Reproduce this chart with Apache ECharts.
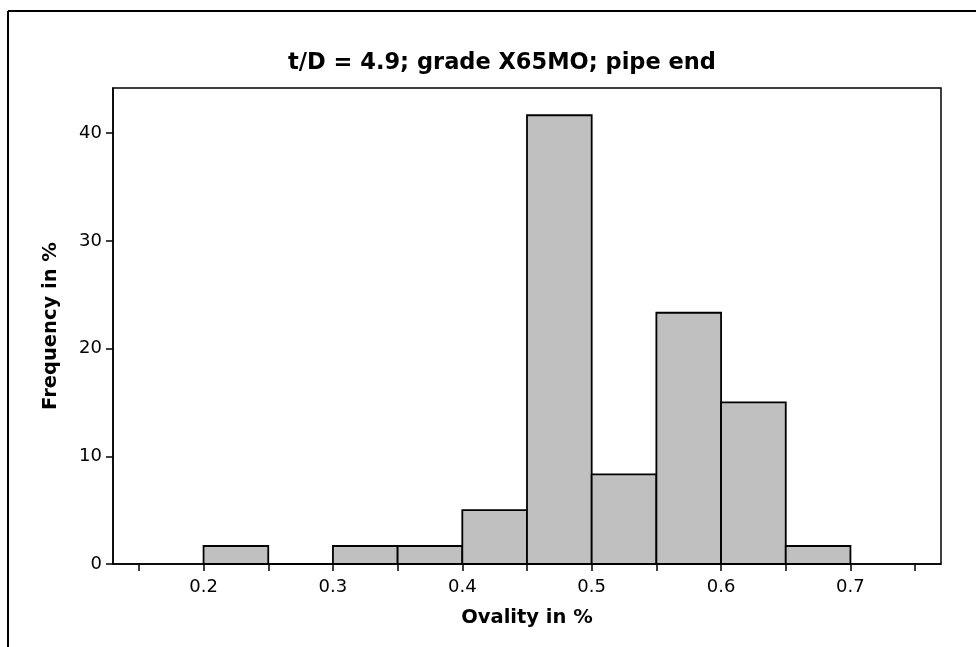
<!DOCTYPE html>
<html>
<head>
<meta charset="utf-8">
<script src="https://cdn.jsdelivr.net/npm/echarts@6/dist/echarts.min.js"></script>
<style>html,body{margin:0;padding:0;background:#fff;}#c{width:976px;height:647px;}</style>
</head>
<body>
<div id="c"></div>
<script>
// Histogram bins (Ovality in %) and frequencies (%)
const binStarts = [0.20, 0.25, 0.30, 0.35, 0.40, 0.45, 0.50, 0.55, 0.60, 0.65];
const binEnds   = [0.25, 0.30, 0.35, 0.40, 0.45, 0.50, 0.55, 0.60, 0.65, 0.70];
const frequencies = [1.67, 0, 1.67, 1.67, 5.0, 41.67, 8.33, 23.33, 15.0, 1.67];
const xTickValues = [0.15, 0.2, 0.25, 0.3, 0.35, 0.4, 0.45, 0.5, 0.55, 0.6, 0.65, 0.7, 0.75];
const xLabelValues = [0.2, 0.3, 0.4, 0.5, 0.6, 0.7];
const yTickValues = [0, 10, 20, 30, 40];
const titleText = 't/D = 4.9; grade X65MO; pipe end';
const xName = 'Ovality in %';
const yName = 'Frequency in %';

const data = binStarts.map((s, i) => [s, binEnds[i], frequencies[i]]);
const FONT = 'DejaVu Sans';

const chart = echarts.init(document.getElementById('c'), null, {renderer: 'canvas'});
chart.setOption({
  backgroundColor: '#fff',
  animation: false,
  title: {
    text: titleText,
    left: 497, top: 47, textAlign: 'center',
    textStyle: {fontFamily: FONT, fontWeight: 'bold', fontSize: 22.5, color: '#000'}
  },
  grid: {left: 113, right: 35, top: 88, bottom: 83, show: true, borderColor: '#000', borderWidth: 1.5, backgroundColor: 'transparent'},
  xAxis: {
    type: 'value', min: 0.13, max: 0.77,
    name: xName, nameLocation: 'middle', nameGap: 44,
    nameTextStyle: {fontFamily: FONT, fontWeight: 'bold', fontSize: 19.5, color: '#000'},
    axisLine: {show: true, onZero: false, lineStyle: {color: '#000', width: 1.5}},
    axisTick: {show: true, length: 7, lineStyle: {color: '#000', width: 1.5}, customValues: xTickValues},
    axisLabel: {show: true, margin: 14, fontFamily: FONT, fontSize: 18, color: '#000', customValues: xLabelValues,
      formatter: v => String(Math.round(v * 10) / 10)},
    splitLine: {show: false}
  },
  yAxis: {
    type: 'value', min: 0, max: 44.2,
    name: yName, nameLocation: 'middle', nameGap: 52, nameRotate: 90,
    nameTextStyle: {fontFamily: FONT, fontWeight: 'bold', fontSize: 19.5, color: '#000'},
    axisLine: {show: true, lineStyle: {color: '#000', width: 1.5}},
    axisTick: {show: true, length: 7, lineStyle: {color: '#000', width: 1.5}, customValues: yTickValues},
    axisLabel: {show: true, margin: 11, fontFamily: FONT, fontSize: 18, color: '#000', customValues: yTickValues},
    splitLine: {show: false}
  },
  series: [{
    type: 'custom',
    data: data,
    encode: {x: [0, 1], y: 2},
    renderItem: function (params, api) {
      const p0 = api.coord([api.value(0), api.value(2)]);
      const p1 = api.coord([api.value(1), 0]);
      return {
        type: 'rect',
        shape: {x: p0[0], y: p0[1], width: p1[0] - p0[0], height: p1[1] - p0[1]},
        style: {fill: '#c0c0c0', stroke: '#000', lineWidth: 1.8}
      };
    }
  }],
  graphic: [
    {type: 'line', shape: {x1: 8, y1: 11, x2: 976, y2: 11}, style: {stroke: '#000', lineWidth: 2}},
    {type: 'line', shape: {x1: 8, y1: 11, x2: 8, y2: 647}, style: {stroke: '#000', lineWidth: 2}}
  ]
});
</script>
</body>
</html>
